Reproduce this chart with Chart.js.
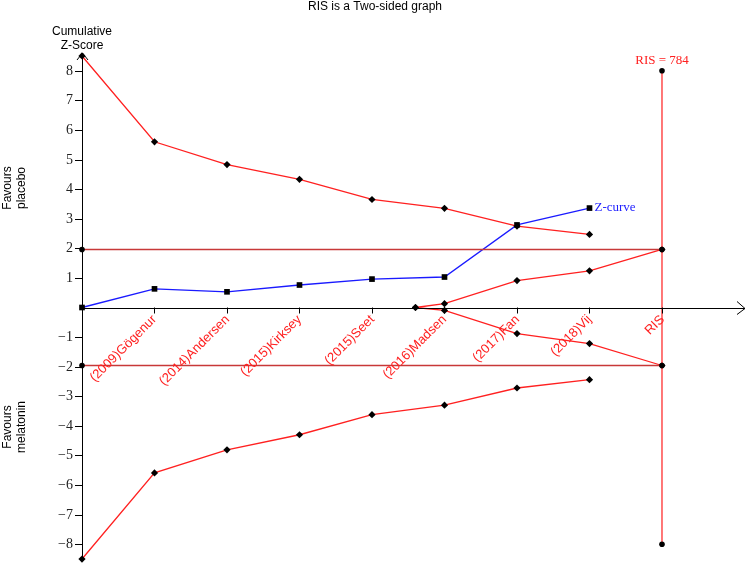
<!DOCTYPE html>
<html>
<head>
<meta charset="utf-8">
<script src="https://cdn.jsdelivr.net/npm/chart.js@4.4.1/dist/chart.umd.min.js"></script>
<style>
  html, body { margin: 0; padding: 0; background: #fff; }
  #wrap { width: 750px; height: 566px; position: relative; }
</style>
</head>
<body>
<div id="wrap"><canvas id="tsa" width="750" height="566"></canvas></div>
<script>
// ── Data ───────────────────────────────────────────────────────────
const studies = ["(2009)Gögenur", "(2014)Andersen", "(2015)Kirksey", "(2015)Seet",
                 "(2016)Madsen", "(2017)Fan", "(2018)Vij", "RIS"];
const studyPos = [1, 2, 3, 4, 5, 6, 7, 8];
const yTicks = [-8, -7, -6, -5, -4, -3, -2, -1, 1, 2, 3, 4, 5, 6, 7, 8];

const zX = [0, 1, 2, 3, 4, 5, 6, 7];
const zCurve = [0, 0.63, 0.53, 0.76, 0.96, 1.03, 2.79, 3.36];

const boundX = [0, 1, 2, 3, 4, 5, 6, 7];
const upperBound = [8.5, 5.6, 4.83, 4.33, 3.65, 3.35, 2.75, 2.47];
const lowerBound = [-8.5, -5.59, -4.81, -4.3, -3.62, -3.3, -2.72, -2.44];

const futX = [4.6, 5, 6, 7, 8];
const futUpper = [0, 0.13, 0.91, 1.24, 1.96];
const futLower = [0, -0.1, -0.88, -1.22, -1.96];

const convX = [0, 8];
const convUpper = [1.96, 1.96];
const convLower = [-1.96, -1.96];

const risX = [8, 8];
const risY = [8, -8];
const risLabel = "RIS = 784";

function pts(xs, ys) {
  return xs.map(function (x, i) { return { x: x, y: ys[i] }; });
}

function lineSet(xs, ys, color, width, style, radius) {
  return {
    data: pts(xs, ys),
    borderColor: color,
    borderWidth: width,
    pointStyle: style,
    pointRadius: radius,
    pointBackgroundColor: "#000",
    pointBorderColor: "#000",
    pointBorderWidth: 0,
    showLine: true,
    tension: 0,
    clip: false,
  };
}

// ── Axes, labels and annotations ───────────────────────────────────
const tsaAxes = {
  id: "tsaAxes",
  afterDatasetsDraw: function (chart) {
    const ctx = chart.ctx;
    const xs = chart.scales.x;
    const ys = chart.scales.y;
    const x0 = xs.getPixelForValue(0);
    const y0 = ys.getPixelForValue(0);
    const top = chart.chartArea.top;
    const right = chart.chartArea.right;
    const bottom = ys.getPixelForValue(-8.5);

    ctx.save();
    ctx.strokeStyle = "#000";
    ctx.lineWidth = 1;

    // y axis with arrow
    ctx.beginPath();
    ctx.moveTo(x0 + 0.5, bottom);
    ctx.lineTo(x0 + 0.5, top);
    ctx.moveTo(x0 - 5, top + 7);
    ctx.lineTo(x0 + 0.5, top);
    ctx.lineTo(x0 + 6, top + 7);
    ctx.stroke();

    // x axis with arrow
    ctx.beginPath();
    ctx.moveTo(x0, Math.round(y0) + 0.5);
    ctx.lineTo(right, Math.round(y0) + 0.5);
    ctx.moveTo(right - 8, y0 - 6);
    ctx.lineTo(right, Math.round(y0) + 0.5);
    ctx.lineTo(right - 8, y0 + 7);
    ctx.stroke();

    // y ticks
    ctx.font = "14px 'Liberation Serif', 'DejaVu Serif', serif";
    ctx.fillStyle = "#222";
    ctx.textAlign = "right";
    ctx.textBaseline = "middle";
    yTicks.forEach(function (v) {
      const py = Math.round(ys.getPixelForValue(v)) + 0.5;
      ctx.beginPath();
      ctx.moveTo(x0 - 7, py);
      ctx.lineTo(x0, py);
      ctx.stroke();
      ctx.fillText(v < 0 ? "\u2212" + Math.abs(v) : String(v), x0 - 9, py);
    });

    // x ticks and rotated study labels
    ctx.font = "13px 'Liberation Sans', Arial, sans-serif";
    ctx.fillStyle = "#ff2020";
    ctx.textAlign = "right";
    ctx.textBaseline = "middle";
    studyPos.forEach(function (v, i) {
      const px = Math.round(xs.getPixelForValue(v)) + 0.5;
      ctx.strokeStyle = "#000";
      ctx.beginPath();
      ctx.moveTo(px, y0);
      ctx.lineTo(px, y0 + 6);
      ctx.stroke();
      ctx.save();
      ctx.translate(px, y0 + 10);
      ctx.rotate(-Math.PI / 4);
      ctx.fillText(studies[i], 0, 0);
      ctx.restore();
    });

    // title and axis captions
    ctx.fillStyle = "#000";
    ctx.textAlign = "center";
    ctx.textBaseline = "middle";
    ctx.font = "12px 'Liberation Sans', Arial, sans-serif";
    ctx.fillText("RIS is a Two-sided graph", 375, 7);
    ctx.fillText("Cumulative", x0, 32);
    ctx.fillText("Z-Score", x0, 46);

    ctx.save();
    ctx.translate(8, 188);
    ctx.rotate(-Math.PI / 2);
    ctx.fillText("Favours", 0, 0);
    ctx.fillText("placebo", 0, 14);
    ctx.restore();
    ctx.save();
    ctx.translate(8, 427);
    ctx.rotate(-Math.PI / 2);
    ctx.fillText("Favours", 0, 0);
    ctx.fillText("melatonin", 0, 14);
    ctx.restore();

    // annotations
    ctx.font = "13px 'Liberation Serif', 'DejaVu Serif', serif";
    ctx.fillStyle = "#ff2020";
    ctx.fillText(risLabel, xs.getPixelForValue(risX[0]), ys.getPixelForValue(risY[0]) - 10);
    ctx.fillStyle = "#2020ff";
    ctx.textAlign = "left";
    const last = zCurve.length - 1;
    ctx.fillText("Z-curve", xs.getPixelForValue(zX[last]) + 5, ys.getPixelForValue(zCurve[last]));
    ctx.restore();
  },
};

// ── Chart ──────────────────────────────────────────────────────────
new Chart(document.getElementById("tsa"), {
  type: "scatter",
  data: {
    datasets: [
      lineSet(convX, convUpper, "#c83838", 1.6, "circle", 2.8),
      lineSet(convX, convLower, "#c83838", 1.6, "circle", 2.8),
      lineSet(risX, risY, "#ff3030", 1.3, "circle", 2.8),
      lineSet(boundX, upperBound, "#ff2020", 1.3, "rectRot", 3.6),
      lineSet(boundX, lowerBound, "#ff2020", 1.3, "rectRot", 3.6),
      lineSet(futX, futUpper, "#ff2020", 1.3, "rectRot", 3.6),
      lineSet(futX, futLower, "#ff2020", 1.3, "rectRot", 3.6),
      lineSet(zX, zCurve, "#1a1aff", 1.3, "rect", 4),
    ],
  },
  options: {
    responsive: false,
    animation: false,
    layout: { padding: { left: 82, right: 5, top: 53, bottom: 1 } },
    plugins: {
      legend: { display: false },
      tooltip: { enabled: false },
      title: { display: false },
    },
    scales: {
      x: { type: "linear", min: 0, max: 9.145, display: false },
      y: { type: "linear", min: -8.6, max: 8.6, display: false },
    },
  },
  plugins: [tsaAxes],
});
</script>
</body>
</html>
